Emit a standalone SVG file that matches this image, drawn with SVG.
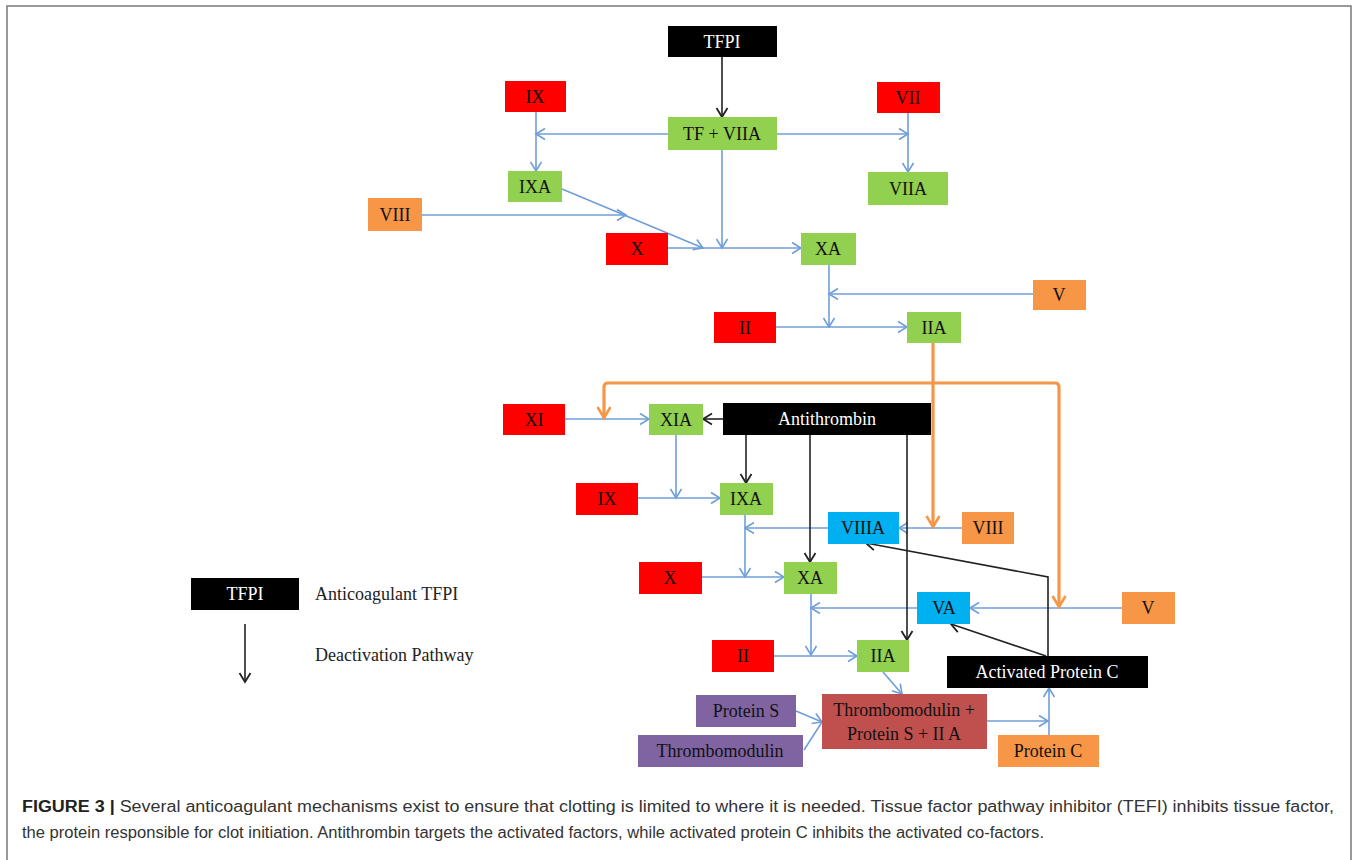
<svg xmlns="http://www.w3.org/2000/svg" width="1357" height="860" viewBox="0 0 1357 860">
<style>
.n text{font-family:"Liberation Serif","Times New Roman",serif;font-size:18px;text-anchor:middle;dominant-baseline:central;fill:#111}
.k rect{fill:#000}.k text{fill:#fff}
.r rect{fill:#ff0000}.g rect{fill:#92d050}.o rect{fill:#f79646}.b rect{fill:#00b0f0}.p rect{fill:#8064a2}.m rect{fill:#c0504d}
.s16 text{font-size:16px}
.bl{fill:none;stroke:#6f9ed9;stroke-width:1.6}
.bk{fill:none;stroke:#222;stroke-width:1.6}
.or{fill:none;stroke:#f79646;stroke-width:3.2}
.lg{font-family:"Liberation Serif","Times New Roman",serif;font-size:18px;fill:#222}
.cap{font-family:"Liberation Sans",Arial,sans-serif;font-size:16px;fill:#333}
</style>
<defs>
<marker id="ab" markerUnits="userSpaceOnUse" markerWidth="14" markerHeight="14" viewBox="0 0 14 14" refX="11" refY="7" orient="auto"><path d="M2,1.5 L11,7 L2,12.5" fill="none" stroke="#6f9ed9" stroke-width="1.6"/></marker>
<marker id="ak" markerUnits="userSpaceOnUse" markerWidth="14" markerHeight="14" viewBox="0 0 14 14" refX="11" refY="7" orient="auto"><path d="M2,1.5 L11,7 L2,12.5" fill="none" stroke="#222" stroke-width="1.8"/></marker>
<marker id="ao" markerUnits="userSpaceOnUse" markerWidth="16" markerHeight="16" viewBox="0 0 16 16" refX="13" refY="8" orient="auto"><path d="M2,1.5 L13,8 L2,14.5" fill="none" stroke="#f79646" stroke-width="2.6"/></marker>
</defs>
<rect width="1357" height="860" fill="#fff"/>
<rect x="7" y="6" width="1344" height="870" fill="none" stroke="#808080" stroke-width="1.6"/>

<g id="connectors">
<path class="bl" d="M668,134 H536" marker-end="url(#ab)"/>
<path class="bl" d="M536,112 V171" marker-end="url(#ab)"/>
<path class="bl" d="M777,134 H908" marker-end="url(#ab)"/>
<path class="bl" d="M908,113 V172" marker-end="url(#ab)"/>
<path class="bl" d="M722,150 V248" marker-end="url(#ab)"/>
<path class="bl" d="M562,189 L703,248" marker-end="url(#ab)"/>
<path class="bl" d="M422,215 H626" marker-end="url(#ab)"/>
<path class="bl" d="M668,248 H801" marker-end="url(#ab)"/>
<path class="bl" d="M829,265 V327" marker-end="url(#ab)"/>
<path class="bl" d="M1033,294 H829" marker-end="url(#ab)"/>
<path class="bl" d="M776,327 H907" marker-end="url(#ab)"/>
<path class="bl" d="M565,419 H649" marker-end="url(#ab)"/>
<path class="bl" d="M676,435 V498" marker-end="url(#ab)"/>
<path class="bl" d="M638,498 H720" marker-end="url(#ab)"/>
<path class="bl" d="M962,528 H899" marker-end="url(#ab)"/>
<path class="bl" d="M828,528 H745" marker-end="url(#ab)"/>
<path class="bl" d="M745,515 V577" marker-end="url(#ab)"/>
<path class="bl" d="M702,577 H784" marker-end="url(#ab)"/>
<path class="bl" d="M811,594 V655" marker-end="url(#ab)"/>
<path class="bl" d="M917,608 H811" marker-end="url(#ab)"/>
<path class="bl" d="M1122,608 H970" marker-end="url(#ab)"/>
<path class="bl" d="M774,656 H857" marker-end="url(#ab)"/>
<path class="bl" d="M883,672 L902,694" marker-end="url(#ab)"/>
<path class="bl" d="M796,711 L822,722" marker-end="url(#ab)"/>
<path class="bl" d="M804,750 L822,722"/>
<path class="bl" d="M987,721 H1048" marker-end="url(#ab)"/>
<path class="bl" d="M1049,735 V688" marker-end="url(#ab)"/>

<path class="bk" d="M722,57 V117" marker-end="url(#ak)"/>
<path class="bk" d="M723,419 H703" marker-end="url(#ak)"/>
<path class="bk" d="M746,435 V483" marker-end="url(#ak)"/>
<path class="bk" d="M810,435 V562" marker-end="url(#ak)"/>
<path class="bk" d="M907,435 V640" marker-end="url(#ak)"/>
<path class="bk" d="M1048,656 V577 L866,543" marker-end="url(#ak)"/>
<path class="bk" d="M1046,656 L951,624" marker-end="url(#ak)"/>

<path class="or" d="M933,343 V527" marker-end="url(#ao)"/>
<path class="or" d="M830,383 H608 Q604,383 604,387 V418" marker-end="url(#ao)"/>
<path class="or" d="M830,383 H1055 Q1059,383 1059,387 V607" marker-end="url(#ao)"/>
</g>

<g id="tfpi" class="n k"><rect x="668" y="26" width="109" height="31"/><text x="722" y="42">TFPI</text></g>
<g id="ix1" class="n r"><rect x="505" y="81" width="61" height="31"/><text x="535" y="97">IX</text></g>
<g id="vii" class="n r"><rect x="877" y="82" width="63" height="31"/><text x="908" y="98">VII</text></g>
<g id="tfviia" class="n g"><rect x="668" y="117" width="109" height="33"/><text x="722" y="134">TF + VIIA</text></g>
<g id="ixa1" class="n g"><rect x="508" y="171" width="54" height="31"/><text x="535" y="187">IXA</text></g>
<g id="viia" class="n g"><rect x="868" y="172" width="80" height="33"/><text x="908" y="189">VIIA</text></g>
<g id="viii1" class="n o"><rect x="368" y="198" width="54" height="33"/><text x="395" y="215">VIII</text></g>
<g id="x1" class="n r"><rect x="606" y="233" width="62" height="32"/><text x="637" y="249">X</text></g>
<g id="xa1" class="n g"><rect x="801" y="233" width="55" height="32"/><text x="828" y="249">XA</text></g>
<g id="v1" class="n o"><rect x="1033" y="280" width="53" height="30"/><text x="1059" y="295">V</text></g>
<g id="ii1" class="n r"><rect x="714" y="312" width="62" height="31"/><text x="745" y="328">II</text></g>
<g id="iia1" class="n g"><rect x="907" y="312" width="54" height="31"/><text x="934" y="328">IIA</text></g>
<g id="xi" class="n r"><rect x="503" y="404" width="62" height="31"/><text x="534" y="420">XI</text></g>
<g id="xia" class="n g"><rect x="649" y="404" width="54" height="31"/><text x="676" y="420">XIA</text></g>
<g id="antithrombin" class="n k"><rect x="723" y="403" width="208" height="32"/><text x="827" y="419">Antithrombin</text></g>
<g id="ix2" class="n r"><rect x="576" y="483" width="62" height="32"/><text x="607" y="499">IX</text></g>
<g id="ixa2" class="n g"><rect x="720" y="483" width="53" height="32"/><text x="746" y="499">IXA</text></g>
<g id="viiia" class="n b"><rect x="828" y="512" width="71" height="32"/><text x="863" y="528">VIIIA</text></g>
<g id="viii2" class="n o"><rect x="962" y="512" width="52" height="32"/><text x="988" y="528">VIII</text></g>
<g id="x2" class="n r"><rect x="639" y="562" width="63" height="32"/><text x="670" y="578">X</text></g>
<g id="xa2" class="n g"><rect x="784" y="562" width="53" height="32"/><text x="810" y="578">XA</text></g>
<g id="va" class="n b"><rect x="917" y="592" width="53" height="32"/><text x="944" y="608">VA</text></g>
<g id="v2" class="n o"><rect x="1122" y="592" width="53" height="32"/><text x="1148" y="608">V</text></g>
<g id="ii2" class="n r"><rect x="712" y="640" width="62" height="32"/><text x="743" y="656">II</text></g>
<g id="iia2" class="n g"><rect x="857" y="640" width="52" height="32"/><text x="883" y="656">IIA</text></g>
<g id="apc" class="n k"><rect x="947" y="656" width="201" height="32"/><text x="1047" y="672">Activated Protein C</text></g>
<g id="proteins" class="n p"><rect x="696" y="695" width="100" height="32"/><text x="746" y="711">Protein S</text></g>
<g id="tmcomplex" class="n m"><rect x="822" y="694" width="165" height="55"/><text x="904" y="710">Thrombomodulin +</text><text x="904" y="734">Protein S + II A</text></g>
<g id="thrombomodulin" class="n p"><rect x="638" y="735" width="165" height="32"/><text x="720" y="751">Thrombomodulin</text></g>
<g id="proteinc" class="n o"><rect x="998" y="735" width="101" height="32"/><text x="1048" y="751">Protein C</text></g>

<g id="legend">
<g id="legend-tfpi" class="n k"><rect x="191" y="578" width="108" height="32"/><text x="245" y="594">TFPI</text></g>
<text class="lg" x="315" y="600">Anticoagulant TFPI</text>
<path class="bk" d="M245,624 V682" marker-end="url(#ak)"/>
<text class="lg" x="315" y="661">Deactivation Pathway</text>
</g>

<g id="caption">
<text class="cap" x="22" y="812" textLength="1312" lengthAdjust="spacingAndGlyphs"><tspan font-weight="bold" fill="#222">FIGURE 3 |</tspan> Several anticoagulant mechanisms exist to ensure that clotting is limited to where it is needed. Tissue factor pathway inhibitor (TEFI) inhibits tissue factor,</text>
<text class="cap" x="22" y="838" textLength="1022" lengthAdjust="spacingAndGlyphs">the protein responsible for clot initiation. Antithrombin targets the activated factors, while activated protein C inhibits the activated co-factors.</text>
</g>
</svg>
